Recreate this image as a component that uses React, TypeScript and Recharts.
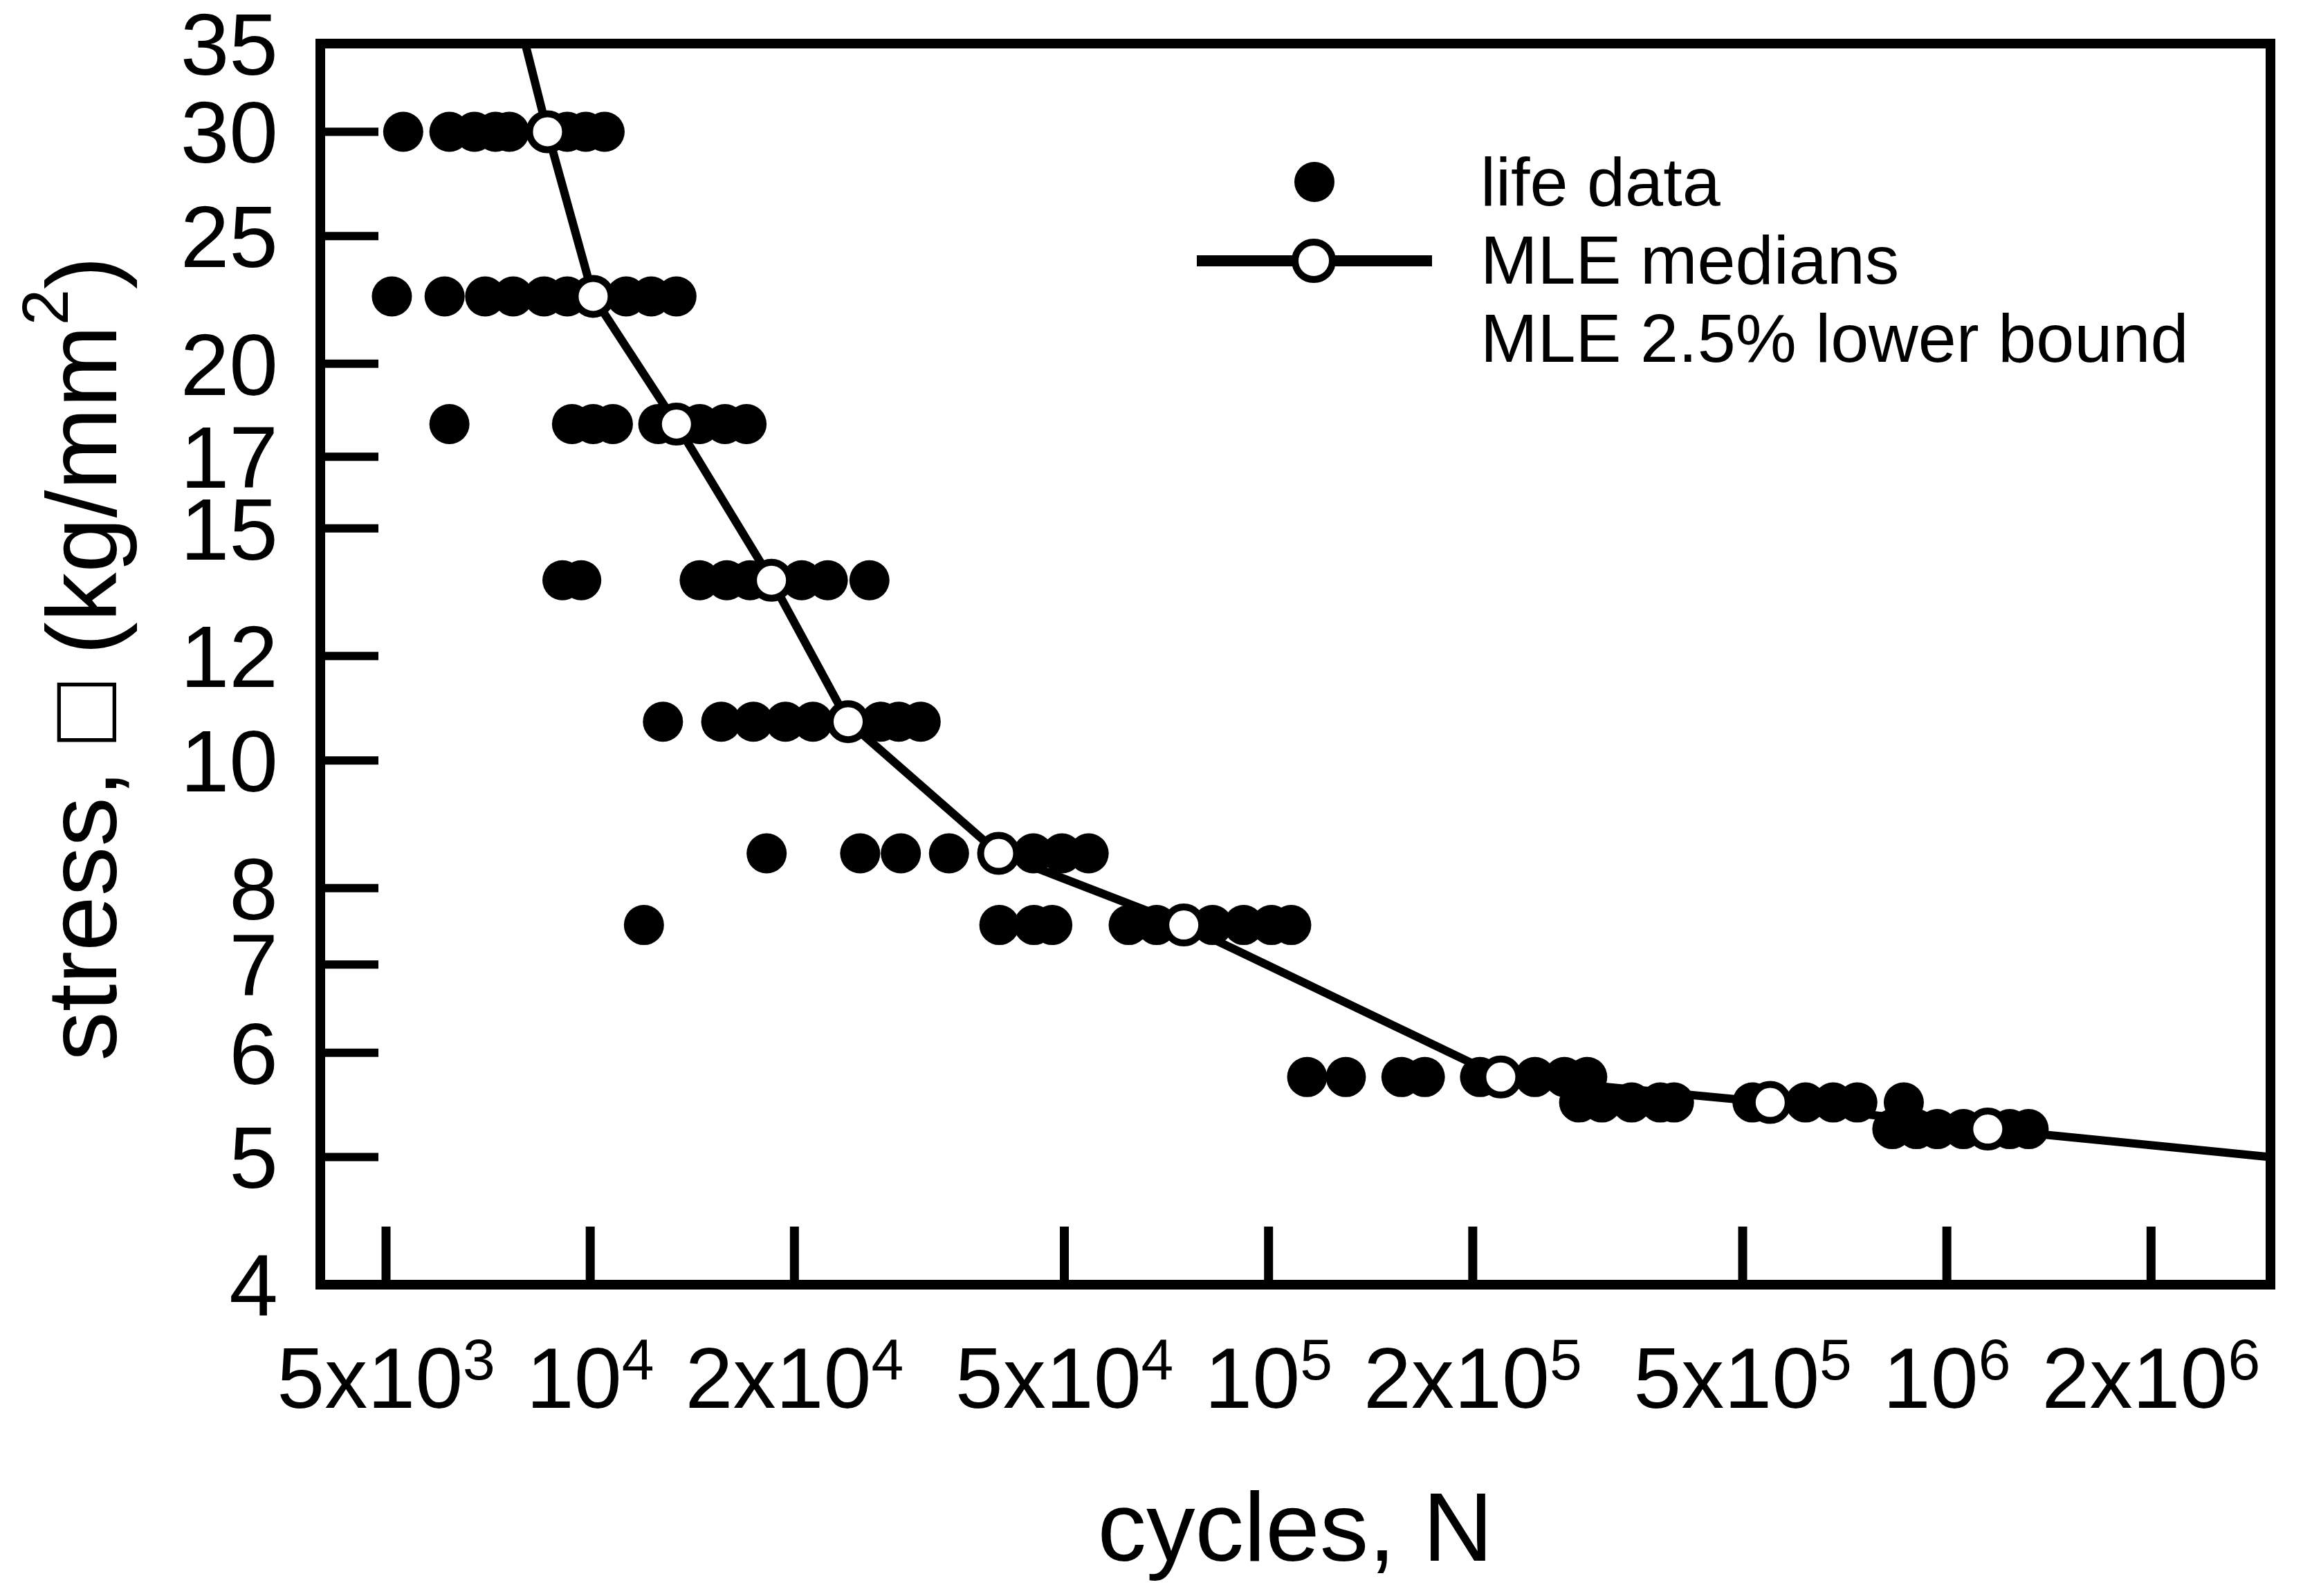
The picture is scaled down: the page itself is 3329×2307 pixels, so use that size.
import { ScatterChart, Scatter, XAxis, YAxis, ReferenceArea, Legend, Label } from 'recharts'

const FONT = '"Liberation Sans", Arial, Helvetica, sans-serif'

// stress levels (kg/mm2), one row of life data per level
const stressLevels = [30, 22.5, 18, 13.7, 10.7, 8.5, 7.5, 5.75, 5.5, 5.25]

const cycles30 = [5300, 6200, 6750, 7250, 7600, 8650, 9250, 9850, 10500]
const cycles22 = [5100, 6100, 7000, 7700, 8550, 9250, 10100, 11300, 12300, 13400]
const cycles18 = [6200, 9400, 10100, 10800, 12600, 13400, 14500, 15800, 17000]
const cycles14 = [9100, 9700, 14500, 15900, 17200, 18500, 20500, 22400, 25800]
const cycles11 = [12800, 15600, 17400, 19400, 21300, 24000, 26800, 28500, 30700]
const cycles85 = [18200, 25000, 28700, 33800, 40000, 45000, 49600, 54300]
const cycles75 = [12000, 40100, 45100, 48000, 62200, 68400, 75000, 82700, 91900, 101000, 108000]
const cycles575 = [114000, 130000, 157000, 170000, 205000, 220000, 247000, 273000, 295000]
const cycles55 = [287000, 310000, 343000, 378000, 396000, 517000, 549000, 619000, 680000, 738000, 864000]
const cycles525 = [831000, 902000, 968000, 1058000, 1149000, 1238000, 1320000]

// MLE medians at each stress level
const medianCycles = [8650, 10100, 13400, 18500, 24000, 40000, 75000, 220000, 549000, 1149000]

// where the median curve leaves the frame (top and right)
const curveEndCycles = [8020, 3000000]
const curveEndStress = [35, 5.0]

const xTicks = [5000, 10000, 20000, 50000, 100000, 200000, 500000, 1000000, 2000000]
const yTicks = [4, 5, 6, 7, 8, 10, 12, 15, 17, 20, 25, 30, 35]

const lifeRows = [cycles30, cycles22, cycles18, cycles14, cycles11, cycles85, cycles75, cycles575, cycles55, cycles525]
const lifeData = lifeRows.flatMap((row, i) => row.map((n) => ({ n, s: stressLevels[i] })))
const medianData = medianCycles.map((n, i) => ({ n, s: stressLevels[i] }))
const curveData = [
    { n: curveEndCycles[0], s: curveEndStress[0] },
    ...medianData,
    { n: curveEndCycles[1], s: curveEndStress[1] },
]

const renderXTick = (props: any) => {
    const { x, y, payload } = props
    const v = payload.value as number
    const exp = Math.floor(Math.log10(v) + 1e-9)
    const mant = Math.round(v / Math.pow(10, exp))
    return (
        <g>
            <line x1={x} x2={x} y1={y} y2={y - 84} stroke="#000" strokeWidth={13} />
            <text x={x} y={y + 178} textAnchor="middle" fontFamily={FONT} fontSize={124} fill="#000">
                {mant === 1 ? '10' : `${mant}x10`}
                <tspan dy={-41} fontSize={84}>{exp}</tspan>
            </text>
        </g>
    )
}

const renderYTick = (props: any) => {
    const { x, y, payload } = props
    return (
        <g>
            <line x1={x} x2={x + 84} y1={y} y2={y} stroke="#000" strokeWidth={12} />
            <text x={x - 61} y={y + 45} textAnchor="end" fontFamily={FONT} fontSize={127} fill="#000">
                {payload.value}
            </text>
        </g>
    )
}

const XTitle = (props: any) => {
    const vb = props.viewBox
    const cx = vb.x + vb.width / 2
    return (
        <text x={cx} y={vb.y + 399} textAnchor="middle" fontFamily={FONT} fontSize={141} fill="#000">
            cycles, N
        </text>
    )
}

const YTitle = (props: any) => {
    const vb = props.viewBox
    const tx = 160
    const ty = vb.y + vb.height / 2 - 8
    return (
        <text
            x={tx}
            y={ty}
            transform={`rotate(-90 ${tx} ${ty})`}
            textAnchor="middle"
            fontFamily={FONT}
            fontSize={143}
            fill="#000"
        >
            stress, □ (kg/mm
            <tspan dy={-70} fontSize={94}>2</tspan>
            <tspan dy={70}>)</tspan>
        </text>
    )
}

const LegendBox = () => (
    <svg width={1560} height={380} style={{ display: 'block' }}>
        <circle cx={200} cy={63} r={29} fill="#000" />
        <line x1={30} x2={370} y1={177} y2={177} stroke="#000" strokeWidth={16} />
        <circle cx={199} cy={177} r={27} fill="#fff" stroke="#000" strokeWidth={10} />
        <g fontFamily={FONT} fontSize={99} fill="#000">
            <text x={440} y={97}>life data</text>
            <text x={440} y={210}>MLE medians</text>
            <text x={440} y={323}>MLE 2.5% lower bound</text>
        </g>
    </svg>
)

const dotShape = (p: any) => <circle cx={p.cx} cy={p.cy} r={29} fill="#000" />
const openShape = (p: any) => <circle cx={p.cx} cy={p.cy} r={26} fill="#fff" stroke="#000" strokeWidth={10} />
const noShape = () => <g />

export default function App() {
    return (
        <div style={{ width: 3313, height: 2291, overflow: 'hidden', background: '#fff' }}>
            <ScatterChart width={3313} height={2291} margin={{ top: 55, right: 39, bottom: 0, left: 0 }}>
                <XAxis
                    type="number"
                    dataKey="n"
                    scale="log"
                    domain={[4000, 3000000]}
                    ticks={xTicks}
                    interval={0}
                    allowDataOverflow
                    axisLine={false}
                    tickLine={false}
                    tickSize={0}
                    tickMargin={0}
                    height={442}
                    tick={renderXTick}
                >
                    <Label content={XTitle} />
                </XAxis>
                <YAxis
                    type="number"
                    dataKey="s"
                    scale="log"
                    domain={[4, 35]}
                    ticks={yTicks}
                    interval={0}
                    allowDataOverflow
                    axisLine={false}
                    tickLine={false}
                    tickSize={0}
                    tickMargin={0}
                    width={455}
                    tick={renderYTick}
                >
                    <Label content={YTitle} />
                </YAxis>
                <Legend
                    layout="vertical"
                    align="center"
                    verticalAlign="middle"
                    content={LegendBox}
                    wrapperStyle={{ left: 1692, top: 192, width: 1560, height: 380 }}
                />
                <Scatter name="life data" data={lifeData} shape={dotShape} isAnimationActive={false} />
                <Scatter
                    name="MLE curve"
                    data={curveData}
                    line={{ stroke: '#000', strokeWidth: 12 }}
                    shape={noShape}
                    isAnimationActive={false}
                />
                <Scatter name="MLE medians" data={medianData} shape={openShape} isAnimationActive={false} />
                <ReferenceArea
                    x1={4000}
                    x2={3000000}
                    y1={4}
                    y2={35}
                    fill="none"
                    stroke="#000"
                    strokeWidth={14}
                    ifOverflow="visible"
                />
            </ScatterChart>
        </div>
    )
}
